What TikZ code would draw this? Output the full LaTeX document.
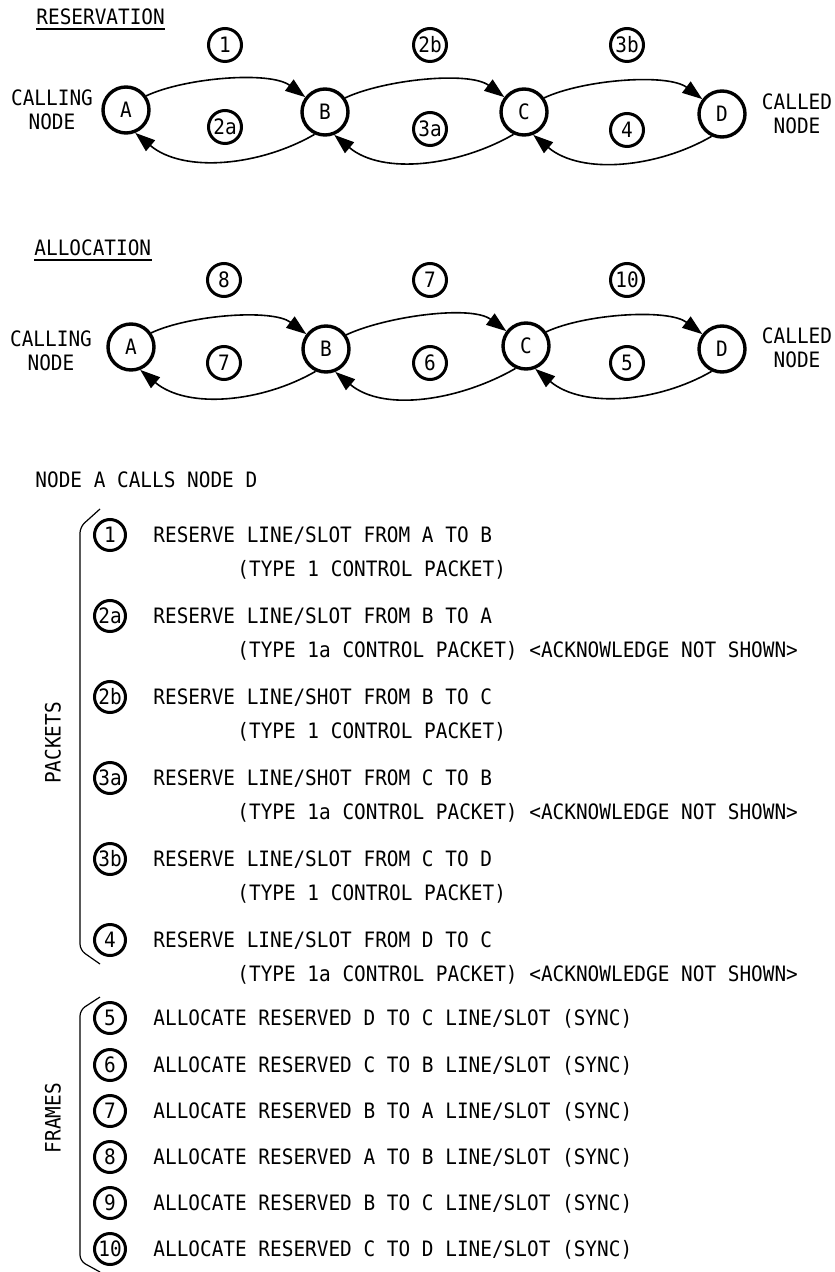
\documentclass[tikz,border=0pt]{standalone}
\usepackage{fontspec}
\usetikzlibrary{arrows.meta}
\newfontfamily\lettering[FakeStretch=0.915]{DejaVu Sans Mono}

\begin{document}
\begin{tikzpicture}[x=0.5pt,y=-0.5pt,
  every node/.style={font=\fontsize{10.6}{12}\lettering, inner sep=0pt},
  station/.style={circle, draw, line width=1.7pt, minimum size=23pt},
  tag/.style={circle, draw, line width=1.5pt, minimum size=16.5pt},
  listtag/.style={circle, draw, line width=1.5pt, minimum size=15.5pt},
  link/.style={line width=0.8pt, -{Triangle[length=10pt,width=7pt]}},
  item/.style={anchor=base west},
  heading/.style={anchor=base west},
  side/.style={align=center},
  brace/.style={line width=0.6pt, rounded corners=3pt},
  rule/.style={line width=1pt},
]
\useasboundingbox (0,0) rectangle (834,1272);

% ---------- reservation phase ----------
\node[heading] (res) at (36,24.5) {RESERVATION};
\draw[rule] ([yshift=-2.5pt]res.base west) -- ([yshift=-2.5pt]res.base east);

\node[side] (callingR) at (52,110) {CALLING\\NODE};
\node[side] (calledR) at (797,114) {CALLED\\NODE};

\node[station] (A) at (126,110) {A};
\node[station] (B) at (325,112) {B};
\node[station] (C) at (524,112) {C};
\node[station] (D) at (722,114) {D};

\node[tag] (r1)  at (225,45) {1};
\node[tag] (r2b) at (430,45) {2b};
\node[tag] (r3b) at (627,45) {3b};
\node[tag] (r2a) at (225,127) {2a};
\node[tag] (r3a) at (430,129) {3a};
\node[tag] (r4)  at (627,130) {4};

\draw[link] (A.35)  to[out=25,in=143,looseness=0.7] (B.143);
\draw[link] (B.35)  to[out=25,in=143,looseness=0.7] (C.143);
\draw[link] (C.35)  to[out=25,in=143,looseness=0.7] (D.143);
\draw[link] (B.-115) to[out=-150,in=-40,looseness=0.9] (A.-68);
\draw[link] (C.-115) to[out=-150,in=-40,looseness=0.9] (B.-68);
\draw[link] (D.-115) to[out=-150,in=-40,looseness=0.9] (C.-68);

% ---------- allocation phase ----------
\node[heading] (alc) at (34,255.5) {ALLOCATION};
\draw[rule] ([yshift=-2.5pt]alc.base west) -- ([yshift=-2.5pt]alc.base east);

\node[side] (callingA) at (51,351) {CALLING\\NODE};
\node[side] (calledA) at (797,348) {CALLED\\NODE};

\node[station] (A2) at (131,347) {A};
\node[station] (B2) at (326,349) {B};
\node[station] (C2) at (526,346) {C};
\node[station] (D2) at (722,349) {D};

\node[tag] (a8)  at (224,280) {8};
\node[tag] (a7)  at (430,280) {7};
\node[tag] (a10) at (627,280) {10};
\node[tag] (a7b) at (224,363) {7};
\node[tag] (a6)  at (430,363) {6};
\node[tag] (a5)  at (627,363) {5};

\draw[link] (A2.35)  to[out=25,in=143,looseness=0.7] (B2.143);
\draw[link] (B2.35)  to[out=25,in=143,looseness=0.7] (C2.143);
\draw[link] (C2.35)  to[out=25,in=143,looseness=0.7] (D2.143);
\draw[link] (B2.-115) to[out=-150,in=-40,looseness=0.9] (A2.-68);
\draw[link] (C2.-115) to[out=-150,in=-40,looseness=0.9] (B2.-68);
\draw[link] (D2.-115) to[out=-150,in=-40,looseness=0.9] (C2.-68);

% ---------- legend ----------
\node[item] (title) at (35,487.5) {NODE A CALLS NODE D};

% packets
\node[listtag] (p1)  at (110,535) {1};
\node[item] (p1t)  at (153,542.5) {RESERVE LINE/SLOT FROM A TO B};
\node[item] (p1s)  at (237,576.5) {(TYPE 1 CONTROL PACKET)};
\node[listtag] (p2a) at (110,616) {2a};
\node[item] (p2at) at (153,623.5) {RESERVE LINE/SLOT FROM B TO A};
\node[item] (p2as) at (237,657.5) {(TYPE 1a CONTROL PACKET) <ACKNOWLEDGE NOT SHOWN>};
\node[listtag] (p2b) at (110,697) {2b};
\node[item] (p2bt) at (153,704.5) {RESERVE LINE/SHOT FROM B TO C};
\node[item] (p2bs) at (237,738.5) {(TYPE 1 CONTROL PACKET)};
\node[listtag] (p3a) at (110,778) {3a};
\node[item] (p3at) at (153,785.5) {RESERVE LINE/SHOT FROM C TO B};
\node[item] (p3as) at (237,819.5) {(TYPE 1a CONTROL PACKET) <ACKNOWLEDGE NOT SHOWN>};
\node[listtag] (p3b) at (110,859) {3b};
\node[item] (p3bt) at (153,866.5) {RESERVE LINE/SLOT FROM C TO D};
\node[item] (p3bs) at (237,900.5) {(TYPE 1 CONTROL PACKET)};
\node[listtag] (p4)  at (110,940) {4};
\node[item] (p4t)  at (153,947.5) {RESERVE LINE/SLOT FROM D TO C};
\node[item] (p4s)  at (237,981.5) {(TYPE 1a CONTROL PACKET) <ACKNOWLEDGE NOT SHOWN>};

\draw[brace] (100,509) -- (80,527) -- (80,950) -- (100,964);
\node[rotate=90] (packets) at (53,743) {PACKETS};

% frames
\node[listtag] (f5)  at (110,1018) {5};
\node[item] (f5t)  at (153,1025.5) {ALLOCATE RESERVED D TO C LINE/SLOT (SYNC)};
\node[listtag] (f6)  at (110,1065) {6};
\node[item] (f6t)  at (153,1072.5) {ALLOCATE RESERVED C TO B LINE/SLOT (SYNC)};
\node[listtag] (f7)  at (110,1111) {7};
\node[item] (f7t)  at (153,1118.5) {ALLOCATE RESERVED B TO A LINE/SLOT (SYNC)};
\node[listtag] (f8)  at (110,1157) {8};
\node[item] (f8t)  at (153,1164.5) {ALLOCATE RESERVED A TO B LINE/SLOT (SYNC)};
\node[listtag] (f9)  at (110,1203) {9};
\node[item] (f9t)  at (153,1210.5) {ALLOCATE RESERVED B TO C LINE/SLOT (SYNC)};
\node[listtag] (f10) at (110,1249) {10};
\node[item] (f10t) at (153,1256.5) {ALLOCATE RESERVED C TO D LINE/SLOT (SYNC)};

\draw[brace] (100,997) -- (80,1010) -- (80,1261) -- (100,1272);
\node[rotate=90] (frames) at (53,1118) {FRAMES};
\end{tikzpicture}
\end{document}
